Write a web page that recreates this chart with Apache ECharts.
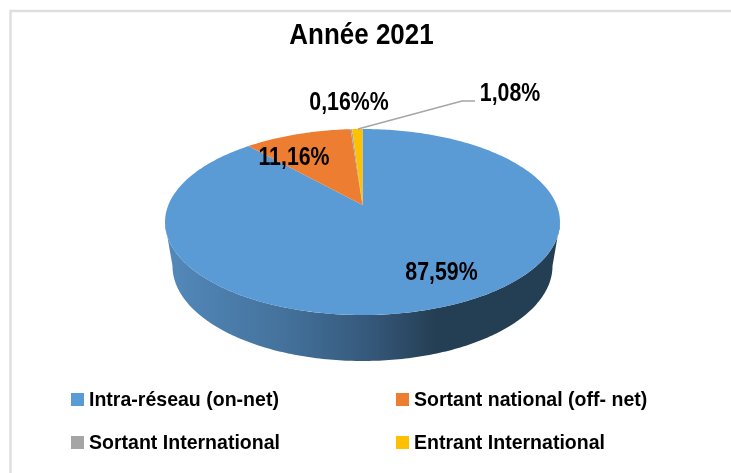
<!DOCTYPE html>
<html><head><meta charset="utf-8">
<style>html,body{margin:0;padding:0;background:#fff}#c{width:731px;height:473px}</style>
<script src="https://cdn.jsdelivr.net/npm/echarts@6/dist/echarts.min.js"></script>
</head><body><div id="c"></div>
<script>
const titleText = 'Année 2021';
const categories = ['Intra-réseau (on-net)','Sortant national (off- net)','Sortant International','Entrant International'];
const values = [87.59,11.16,0.16,1.08];
const labels = ['87,59%','11,16%','0,16%%','1,08%'];
const colors = ['#5b9bd5','#ed7d31','#a5a5a5','#ffc000'];

const FONT = '"Liberation Sans",Arial,sans-serif';
const total = values.reduce((a,b)=>a+b,0);
// perspective view of the pie disc
const P = {cx:362.5, cy:198.75, a:191.2, b:87.2, k:-0.25};
const APEX = [362.5,205];
const LOW = {cx:362.5, cy:266, a:190, b:95, k:0};
function proj(deg, p){
  p = p || P;
  const t = deg*Math.PI/180, X = Math.sin(t), Y = -Math.cos(t), w = 1+p.k*Y;
  return [p.cx + p.a*X/w, p.cy + p.b*Y/w];
}
function startDeg(i){ let s=0; for(let j=0;j<i;j++) s+=values[j]; return s/total*360; }
function slice(i){
  const s = startDeg(i), e = s + values[i]/total*360, pts=[APEX];
  const n = Math.max(2, Math.ceil(e-s));
  for(let j=0;j<=n;j++) pts.push(proj(s+(e-s)*j/n));
  return pts;
}
function side(){
  const pts=[];
  for(let d=105;d<=255;d+=1) pts.push(proj(d));
  for(let d=270;d>=90;d-=1) pts.push(proj(d,LOW));
  return pts;
}
const sideSeries = {
  type:'custom', name:'side', coordinateSystem:'none', silent:true, z:1, data:[0],
  renderItem(){ return {type:'polygon', shape:{points:side()}, style:{fill:{
    type:'linear',x:0,y:0,x2:1,y2:0,colorStops:[
      {offset:0,color:'#5389bb'},{offset:.3,color:'#44729c'},{offset:.52,color:'#35587a'},
      {offset:.69,color:'#243e53'},{offset:1,color:'#243e53'}]}}}; }
};
const sliceSeries = categories.map((name,i)=>({
  type:'custom', name, coordinateSystem:'none', silent:true, z:2+i,
  itemStyle:{color:colors[i]}, data:[values[i]],
  renderItem(){ return {type:'polygon', shape:{points:slice(i)}, style:{fill:colors[i]}}; }
}));
const legendPos = [[71,400],[396,400],[71,443],[396,443]];
const labelPos = [[441.5,273],[294,158],[349,103],[510,94]];
const txt = (t,x,y,size,sx,align)=>({type:'text',z:50,x,y,scaleX:sx,
  style:{text:t,x:0,y:0,align,verticalAlign:'middle',fontFamily:FONT,fontWeight:'bold',fontSize:size,fill:'#000'}});
const graphics = [
  {type:'polyline',z:0,shape:{points:[[10.5,480],[10.5,11],[731,11]]},style:{fill:'none',stroke:'#dedede',lineWidth:2.5}},
  {type:'polyline',z:40,shape:{points:[[358,129],[462,101],[475,101]]},style:{fill:'none',stroke:'#a5a5a5',lineWidth:1.5}},
  txt(titleText,361.5,35.5,29,0.895,'center')
];
labels.forEach((t,i)=>graphics.push(txt(t,labelPos[i][0],labelPos[i][1],26,0.82,'center')));
categories.forEach((t,i)=>{
  graphics.push({type:'rect',z:50,shape:{x:legendPos[i][0],y:legendPos[i][1]-7,width:13,height:13},style:{fill:colors[i]}});
  graphics.push(txt(t,legendPos[i][0]+18,legendPos[i][1],21,0.93,'left'));
});
const chart = echarts.init(document.getElementById('c'),null,{renderer:'canvas'});
chart.setOption({
  animation:false,
  graphic:{elements:graphics},
  series:[sideSeries].concat(sliceSeries)
});
</script></body></html>
